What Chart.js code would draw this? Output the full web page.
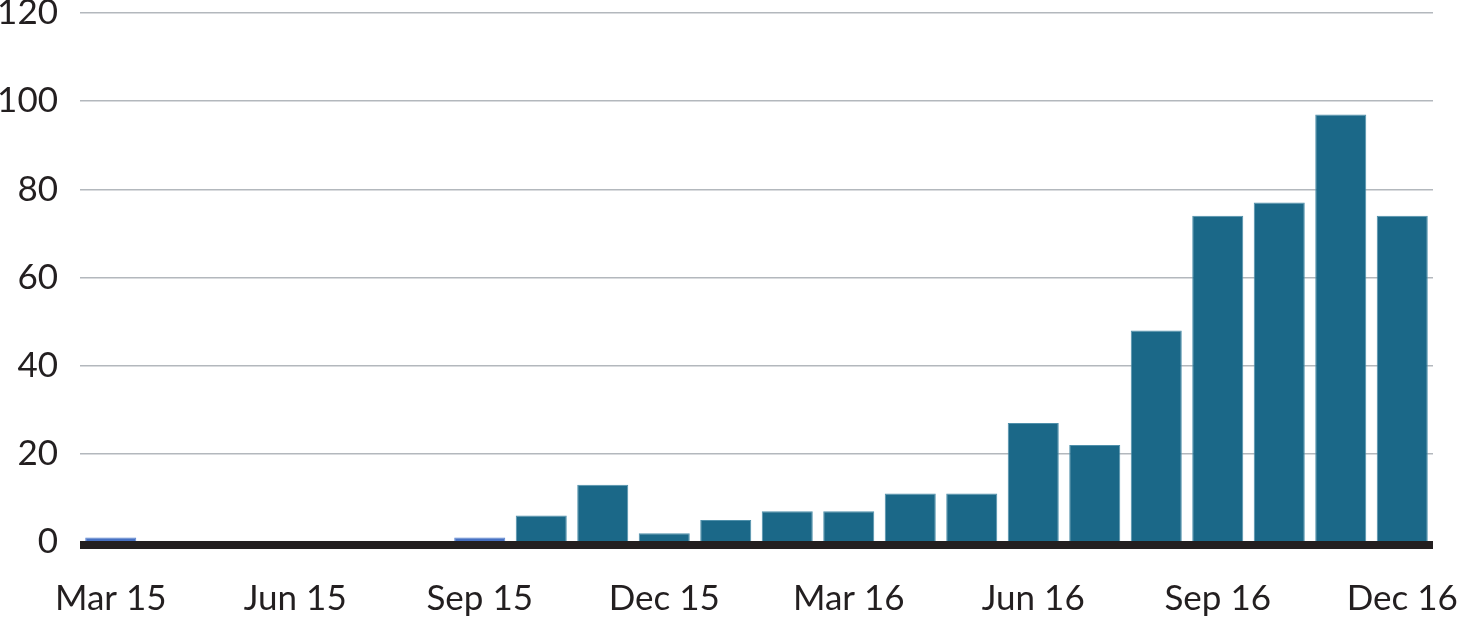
<!DOCTYPE html>
<html>
<head>
<meta charset="utf-8">
<script src="https://cdn.jsdelivr.net/npm/chart.js@4.4.1/dist/chart.umd.min.js"></script>
<style>
  html, body { margin: 0; padding: 0; background: #fff; }
  #wrap { width: 1458px; height: 621px; }
</style>
</head>
<body>
<div id="wrap"><canvas id="chart" width="1458" height="621"></canvas></div>
<script>
const months = ['Mar 15', 'Apr 15', 'May 15', 'Jun 15', 'Jul 15', 'Aug 15', 'Sep 15', 'Oct 15', 'Nov 15', 'Dec 15',
  'Jan 16', 'Feb 16', 'Mar 16', 'Apr 16', 'May 16', 'Jun 16', 'Jul 16', 'Aug 16', 'Sep 16', 'Oct 16', 'Nov 16', 'Dec 16'];
const values = [1, 0, 0, 0, 0, 0, 1, 6, 13, 2, 5, 7, 7, 11, 11, 27, 22, 48, 74, 77, 97, 74];
const yTicks = [0, 20, 40, 60, 80, 100, 120];

const mainColor = '#1b6888';
const smallColor = '#4670c2';
const textColor = '#231f20';

// thick baseline hanging just under the zero value, drawn over the bars
const zeroLine = {
  id: 'zeroLine',
  afterDatasetsDraw(chart) {
    const { ctx, chartArea, scales } = chart;
    const y0 = scales.y.getPixelForValue(0);
    ctx.save();
    ctx.fillStyle = textColor;
    ctx.fillRect(chartArea.left, y0 - 1, chartArea.right - chartArea.left, 8);
    ctx.restore();
  }
};

const ctx = document.getElementById('chart').getContext('2d');
new Chart(ctx, {
  type: 'bar',
  data: {
    labels: months,
    datasets: [{
      data: values,
      backgroundColor: values.map(v => v <= 1 ? smallColor : mainColor),
      borderColor: values.map(v => v <= 1 ? '#5a84d0' : '#4f90ab'),
      borderWidth: 1,
      borderSkipped: 'bottom',
      categoryPercentage: 1,
      barPercentage: 0.83
    }]
  },
  options: {
    responsive: false,
    animation: false,
    layout: { padding: { top: 13, right: 25, left: 0, bottom: 0 } },
    plugins: {
      legend: { display: false },
      tooltip: { enabled: false }
    },
    scales: {
      x: {
        grid: { display: false },
        border: { display: false },
        ticks: {
          color: textColor,
          font: { family: 'Lato', size: 35 },
          padding: 28,
          autoSkip: false,
          maxRotation: 0,
          callback: function (val, i) { return i % 3 === 0 ? months[i] : ''; }
        },
        afterFit: s => { s.height = 79; s.paddingLeft = 0; s.paddingRight = 0; }
      },
      y: {
        min: 0,
        max: 120,
        afterBuildTicks: s => { s.ticks = yTicks.map(v => ({ value: v })); },
        grid: { color: '#b3b8bd', lineWidth: 1.5, drawTicks: false },
        border: { display: false },
        ticks: {
          color: textColor,
          font: { family: 'Lato', size: 35 },
          padding: 22
        },
        afterFit: s => { s.width = 80; s.paddingTop = 0; s.paddingBottom = 0; }
      }
    }
  },
  plugins: [zeroLine]
});
</script>
</body>
</html>
